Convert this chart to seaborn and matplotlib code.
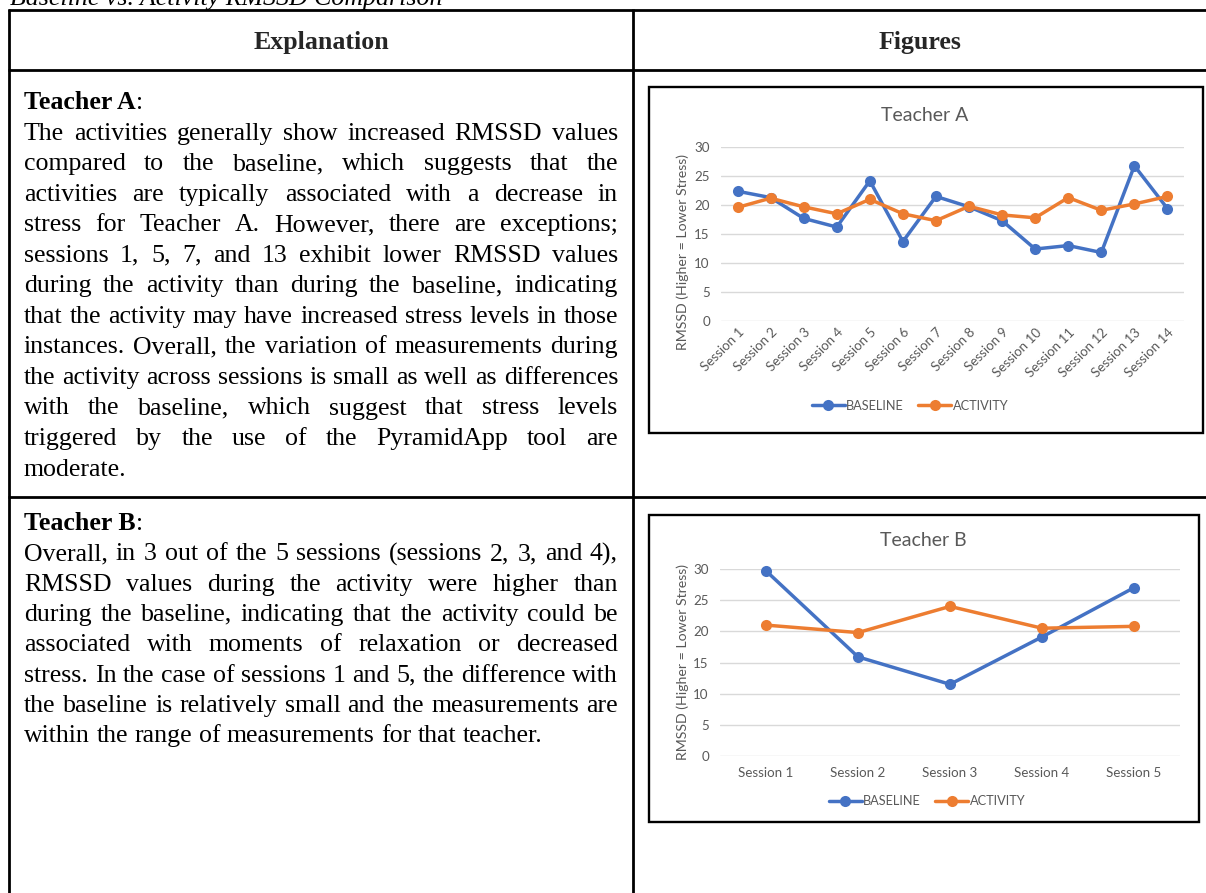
import matplotlib
matplotlib.use("Agg")
import matplotlib.pyplot as plt
import pandas as pd
import seaborn as sns
from matplotlib.lines import Line2D
from matplotlib.patches import Rectangle
from matplotlib.font_manager import FontProperties

# ---------------- data ----------------
sessions_a = ["Session 1", "Session 2", "Session 3", "Session 4", "Session 5",
              "Session 6", "Session 7", "Session 8", "Session 9", "Session 10",
              "Session 11", "Session 12", "Session 13", "Session 14"]
baseline_a = [22.4, 21.3, 17.7, 16.2, 24.2, 13.7, 21.5, 19.7, 17.3, 12.4, 13.0, 11.8, 26.8, 19.4]
activity_a = [19.6, 21.2, 19.7, 18.5, 21.0, 18.5, 17.3, 19.8, 18.3, 17.8, 21.3, 19.1, 20.2, 21.5]

sessions_b = ["Session 1", "Session 2", "Session 3", "Session 4", "Session 5"]
baseline_b = [29.7, 15.9, 11.5, 19.1, 27.0]
activity_b = [21.0, 19.8, 24.0, 20.5, 20.8]

series_names = ["BASELINE", "ACTIVITY"]
series_colors = {"BASELINE": "#4472C4", "ACTIVITY": "#ED7D31"}
y_ticks = [0, 5, 10, 15, 20, 25, 30]
y_label = "RMSSD (Higher = Lower Stress)"

caption = "Baseline vs. Activity RMSSD Comparison"
header_left = "Explanation"
header_right = "Figures"

text_a = [
    "The activities generally show increased RMSSD values",
    "compared to the baseline, which suggests that the",
    "activities are typically associated with a decrease in",
    "stress for Teacher A. However, there are exceptions;",
    "sessions 1, 5, 7, and 13 exhibit lower RMSSD values",
    "during the activity than during the baseline, indicating",
    "that the activity may have increased stress levels in those",
    "instances. Overall, the variation of measurements during",
    "the activity across sessions is small as well as differences",
    "with the baseline, which suggest that stress levels",
    "triggered by the use of the PyramidApp tool are",
    "moderate.",
]
text_b = [
    "Overall, in 3 out of the 5 sessions (sessions 2, 3, and 4),",
    "RMSSD values during the activity were higher than",
    "during the baseline, indicating that the activity could be",
    "associated with moments of relaxation or decreased",
    "stress. In the case of sessions 1 and 5, the difference with",
    "the baseline is relatively small and the measurements are",
    "within the range of measurements for that teacher.",
]

# ---------------- canvas ----------------
W, H, DPI = 1206, 893, 100
sns.set_theme(style="white")
plt.rcParams["font.family"] = ["Lato", "DejaVu Sans"]

fig = plt.figure(figsize=(W / DPI, H / DPI), dpi=DPI)
fig.patch.set_facecolor("white")
renderer = fig.canvas.get_renderer()


def fx(x):
    return x / W


def fy(y):
    return 1 - y / H


def text_w(s, prop):
    w, _, _ = renderer.get_text_width_height_descent(s, prop, ismath=False)
    return w


def hline(y, x0, x1, lw=2.0):
    fig.add_artist(Line2D([fx(x0), fx(x1)], [fy(y), fy(y)], transform=fig.transFigure,
                          color="black", lw=lw, solid_capstyle="butt"))


def vline(x, y0, y1, lw=2.0):
    fig.add_artist(Line2D([fx(x), fx(x)], [fy(y0), fy(y1)], transform=fig.transFigure,
                          color="black", lw=lw, solid_capstyle="butt"))


# ---------------- table text ----------------
SERIF = "Liberation Serif"
ref = FontProperties(family=SERIF, size=20)
widest = max(text_w(l, ref) for l in text_a[:-1] + text_b[:-1])
body_size = 20 * 593 / widest
body = FontProperties(family=SERIF, size=body_size)
bold = FontProperties(family=SERIF, size=body_size, weight="bold")
space_w = text_w("a a", body) - text_w("aa", body)


def put_line(line, x0, x1, y, justify):
    words = line.split(" ")
    widths = [text_w(w, body) for w in words]
    if justify and len(words) > 1:
        gap = (x1 - x0 - sum(widths)) / (len(words) - 1)
    else:
        gap = space_w
    x = x0
    for w, wd in zip(words, widths):
        fig.text(fx(x), fy(y), w, fontproperties=body, color="black",
                 ha="left", va="baseline")
        x += wd + gap


def put_paragraph(title, lines, x0, x1, y0, step):
    fig.text(fx(x0), fy(y0), title, fontproperties=bold, color="black",
             ha="left", va="baseline")
    fig.text(fx(x0 + text_w(title, bold)), fy(y0), ":", fontproperties=body,
             color="black", ha="left", va="baseline")
    for i, line in enumerate(lines):
        put_line(line, x0, x1, y0 + step * (i + 1), justify=(i < len(lines) - 1))


# caption, running off the top of the page
fig.text(fx(10), fy(5.5), caption, fontproperties=body, style="italic",
         color="black", ha="left", va="baseline")

# table rules
hline(10, 8, W)
hline(69.5, 8, W)
hline(497, 8, W)
vline(9, 9, H)
vline(633, 9, H)

fig.text(fx(321), fy(48.5), header_left, fontproperties=bold, ha="center", va="baseline")
fig.text(fx(920), fy(48.5), header_right, fontproperties=bold, ha="center", va="baseline")

put_paragraph("Teacher A", text_a, 24, 618, 109, 30.55)
put_paragraph("Teacher B", text_b, 24, 618, 530, 30.3)

# ---------------- charts ----------------
GREY = "#595959"
TICK_FS = 9.6


def draw_chart(box, plot, title, title_y, sessions, base, act, rotate,
               legend_xy, ylabel_xy):
    l, t, r, b = box
    fig.add_artist(Rectangle((fx(l), fy(b)), fx(r) - fx(l), fy(t) - fy(b),
                             transform=fig.transFigure, fill=False,
                             edgecolor="black", lw=1.7))
    pl, pt, pr, pb = plot
    ax = fig.add_axes([fx(pl), fy(pb), fx(pr) - fx(pl), fy(pt) - fy(pb)])
    n = len(sessions)
    df = pd.DataFrame({
        "pos": list(range(n)) * 2,
        "rmssd": list(base) + list(act),
        "series": ["BASELINE"] * n + ["ACTIVITY"] * n,
    })
    sns.lineplot(data=df, x="pos", y="rmssd", hue="series", hue_order=series_names,
                 palette=series_colors, marker="o", markersize=8,
                 markeredgewidth=0, linewidth=2.5, ax=ax, clip_on=False,
                 legend=False, zorder=3)
    for ln in ax.lines:
        ln.set_markeredgecolor(ln.get_color())

    ax.set_xlim(-0.5, n - 0.5)
    ax.set_ylim(0, 30)
    ax.set_yticks(y_ticks)
    ax.set_xticks(range(n))
    if rotate:
        ax.set_xticklabels(sessions, rotation=45, ha="right", va="top",
                           rotation_mode="anchor")
        ax.tick_params(axis="x", pad=4)
    else:
        ax.set_xticklabels(sessions)
        ax.tick_params(axis="x", pad=8)
    ax.tick_params(axis="both", length=0, colors=GREY, labelsize=TICK_FS)
    ax.tick_params(axis="y", pad=8)
    ax.yaxis.grid(True, color="#D9D9D9", lw=1.0)
    ax.xaxis.grid(False)
    for s in ax.spines.values():
        s.set_visible(False)
    ax.set_facecolor("none")
    ax.set_xlabel("")
    ax.set_ylabel(y_label, fontsize=10.2, color=GREY)
    ax.yaxis.set_label_coords(fx(ylabel_xy[0]), fy(ylabel_xy[1]), transform=fig.transFigure)

    fig.text(fx((l + r) / 2 - 1), fy(title_y), title, fontsize=14, color=GREY,
             ha="center", va="center")

    handles = [Line2D([], [], color=series_colors[s], lw=2.5, marker="o",
                      markersize=8, markeredgewidth=0) for s in series_names]
    fig.legend(handles, series_names, loc="center",
               bbox_to_anchor=(fx(legend_xy[0]), fy(legend_xy[1])),
               bbox_transform=fig.transFigure, ncol=2, frameon=False,
               fontsize=9.2, labelcolor=GREY, handlelength=2.6,
               handletextpad=0.1, columnspacing=1.1)
    return ax


draw_chart((649, 87, 1203, 433), (721, 147.3, 1184, 320.7), "Teacher A", 115.5,
           sessions_a, baseline_a, activity_a, True, (910, 405.5), (689, 252))
draw_chart((649, 515, 1199, 822), (720, 569, 1180, 756), "Teacher B", 540.5,
           sessions_b, baseline_b, activity_b, False, (927, 801), (689, 662))

fig.savefig("out.png", dpi=DPI, facecolor="white")
